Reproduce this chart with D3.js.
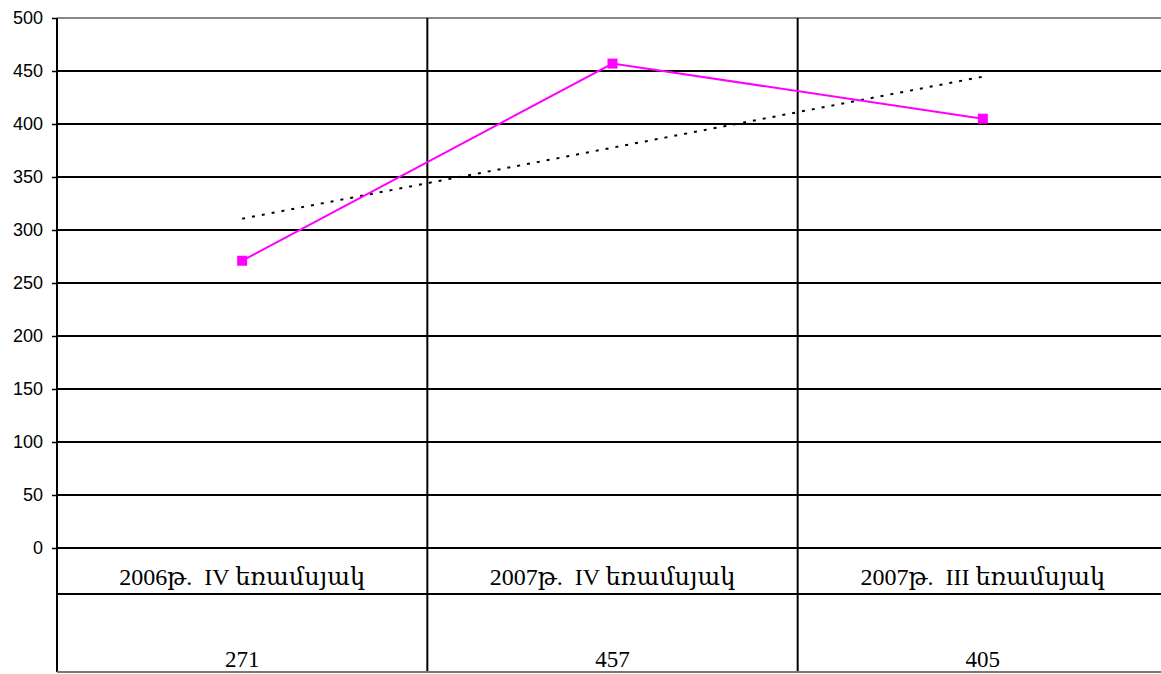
<!DOCTYPE html>
<html>
<head>
<meta charset="utf-8">
<script src="https://cdn.jsdelivr.net/npm/d3@7"></script>
<style>
  html, body { margin: 0; padding: 0; background: #fff; overflow: hidden; }
  svg { display: block; }
</style>
</head>
<body>
<svg id="chart" width="1161" height="674"></svg>
<script>
var categories = ["2006թ.  IV եռամսյակ", "2007թ.  IV եռամսյակ", "2007թ.  III եռամսյակ"]
var values = [271, 457, 405]
var tableValues = ["271", "457", "405"]
var yTicks = [0, 50, 100, 150, 200, 250, 300, 350, 400, 450, 500]

var xleft = 57
var xright = 1168
var ytop = 18
var ybottom = 548
var rowLine = 594
var tableBottom = 672

var svg = d3.select("#chart")

var x = d3.scaleBand()
    .domain(categories)
    .range([xleft, xright])

var y = d3.scaleLinear()
    .domain([0, 500])
    .range([ybottom, ytop])

// gridlines
svg.append("g").selectAll("line")
    .data(yTicks)
    .enter()
    .append("line")
    .attr("x1", xleft)
    .attr("x2", xright)
    .attr("y1", function(d) { return y(d) })
    .attr("y2", function(d) { return y(d) })
    .attr("stroke", function(d) { return d == 500 ? "#888" : "#000" })
    .attr("stroke-width", 2)

// y axis
var yAxis = d3.axisLeft(y)
    .tickValues(yTicks)
    .tickSize(5)
    .tickPadding(9)

var ax = svg.append("g")
    .attr("transform", "translate(" + xleft + ",0)")
    .call(yAxis)
ax.select(".domain").remove()
ax.selectAll("line").attr("stroke", "#000").attr("stroke-width", 1.5)
ax.selectAll("text")
    .attr("font-family", "Arial, 'Liberation Sans', sans-serif")
    .attr("font-size", "18px")
    .attr("fill", "#000")

// vertical lines: axis and category separators, through the table
var vlines = [xleft].concat(categories.slice(1).map(function(c) { return x(c) }))
svg.append("g").selectAll("line")
    .data(vlines)
    .enter()
    .append("line")
    .attr("x1", function(d) { return d })
    .attr("x2", function(d) { return d })
    .attr("y1", ytop)
    .attr("y2", tableBottom)
    .attr("stroke", "#000")
    .attr("stroke-width", 2)

// table horizontal lines
svg.append("line")
    .attr("x1", xleft).attr("x2", xright)
    .attr("y1", rowLine).attr("y2", rowLine)
    .attr("stroke", "#000").attr("stroke-width", 2)
svg.append("line")
    .attr("x1", xleft).attr("x2", xright)
    .attr("y1", tableBottom).attr("y2", tableBottom)
    .attr("stroke", "#777").attr("stroke-width", 2)

var serif = "'Liberation Serif', 'Times New Roman', 'DejaVu Serif', serif"

svg.append("g").selectAll("text")
    .data(categories)
    .enter()
    .append("text")
    .attr("x", function(d) { return x(d) + x.bandwidth() / 2 })
    .attr("y", 585)
    .attr("text-anchor", "middle")
    .attr("font-family", serif)
    .attr("font-size", "24px")
    .style("white-space", "pre")
    .text(function(d) { return d })

svg.append("g").selectAll("text")
    .data(tableValues)
    .enter()
    .append("text")
    .attr("x", function(d, i) { return x(categories[i]) + x.bandwidth() / 2 })
    .attr("y", 667)
    .attr("text-anchor", "middle")
    .attr("font-family", serif)
    .attr("font-size", "23px")
    .text(function(d) { return d })

// linear trend line
var n = values.length
var mx = d3.mean(d3.range(n))
var my = d3.mean(values)
var slope = d3.sum(d3.range(n), function(i) { return (i - mx) * (values[i] - my) }) /
    d3.sum(d3.range(n), function(i) { return (i - mx) * (i - mx) })
var trend = [0, n - 1].map(function(i) {
    return [x(categories[i]) + x.bandwidth() / 2, y(my + slope * (i - mx))]
})
svg.append("path")
    .attr("d", d3.line()(trend))
    .attr("fill", "none")
    .attr("stroke", "#000")
    .attr("stroke-width", 2)
    .attr("stroke-dasharray", "3,7")

// series
var lineFunction = d3.line()
    .x(function(d, i) { return x(categories[i]) + x.bandwidth() / 2 })
    .y(function(d) { return y(d) })

svg.append("path")
    .attr("d", lineFunction(values))
    .attr("fill", "none")
    .attr("stroke", "#ff00ff")
    .attr("stroke-width", 2)

svg.append("g").selectAll("rect")
    .data(values)
    .enter()
    .append("rect")
    .attr("x", function(d, i) { return x(categories[i]) + x.bandwidth() / 2 - 5 })
    .attr("y", function(d) { return y(d) - 5 })
    .attr("width", 10)
    .attr("height", 10)
    .attr("fill", "#ff00ff")
</script>
</body>
</html>
